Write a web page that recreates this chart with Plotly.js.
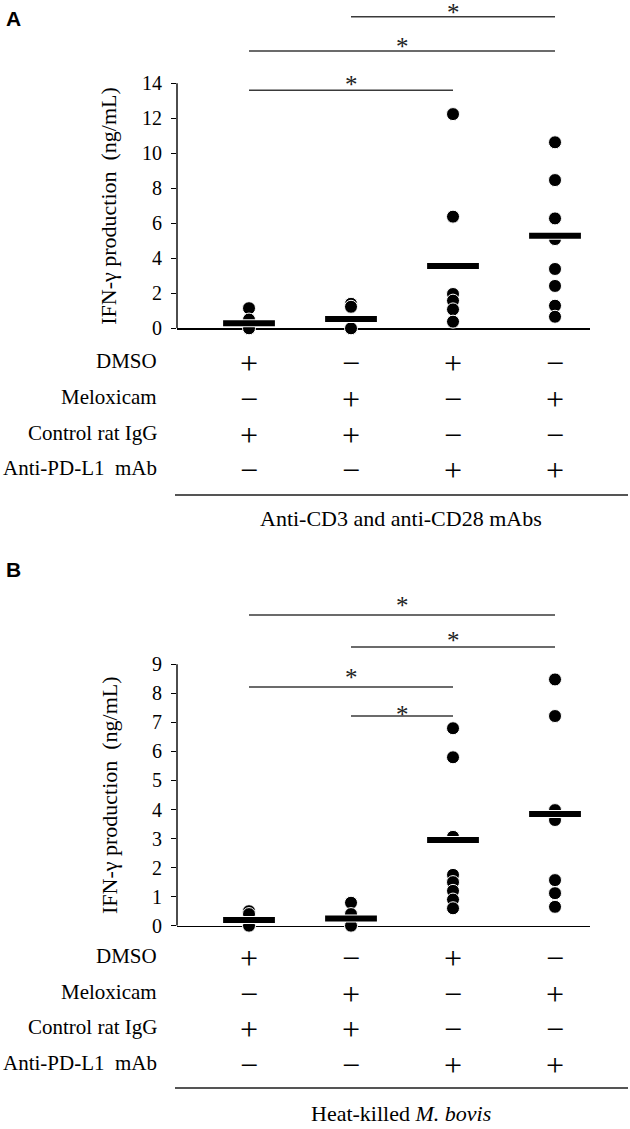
<!DOCTYPE html>
<html>
<head>
<meta charset="utf-8">
<script src="https://cdn.plot.ly/plotly-3.0.1.min.js"></script>
<style>html,body{margin:0;padding:0;background:#fff;}#chart{width:630px;height:1129px;}</style>
</head>
<body>
<div id="chart"></div>
<script>
// ---------------- DATA ----------------
const groups = [0, 1, 2, 3];
const rowLabels = ['DMSO', 'Meloxicam', 'Control rat IgG', 'Anti-PD-L1\u00a0 mAb'];
const dmso      = ['+', '\u2212', '+', '\u2212'];
const meloxicam = ['\u2212', '+', '\u2212', '+'];
const ratIgG    = ['+', '+', '\u2212', '\u2212'];
const antiPDL1  = ['\u2212', '\u2212', '+', '+'];

// Panel A: anti-CD3 / anti-CD28 stimulation (ng/mL)
const a_g1 = [1.15, 0.5, 0.0];
const a_g2 = [1.4, 1.23, 0.0];
const a_g3 = [12.24, 6.38, 1.96, 1.58, 1.08, 0.38];
const a_g4 = [10.63, 8.47, 6.28, 5.1, 3.39, 2.42, 1.29, 0.66];
const a_mean = [0.29, 0.53, 3.56, 5.29];
const a_ticks = [0, 2, 4, 6, 8, 10, 12, 14];
const a_sigPairs = [[1, 3], [0, 3], [0, 2]];
const a_sigLevel = [17.8, 15.85, 13.6];
const a_starLevel = [18.3, 16.36, 14.15];
const a_footer = 'Anti-CD3 and anti-CD28 mAbs';

// Panel B: heat-killed M. bovis stimulation (ng/mL)
const b_g1 = [0.5, 0.4, 0.0];
const b_g2 = [0.79, 0.4, 0.08, 0.0];
const b_g3 = [6.8, 5.8, 3.06, 1.75, 1.5, 1.2, 0.9, 0.6];
const b_g4 = [8.48, 7.22, 3.98, 3.64, 1.57, 1.12, 0.65];
const b_mean = [0.2, 0.25, 2.95, 3.85];
const b_ticks = [0, 1, 2, 3, 4, 5, 6, 7, 8, 9];
const b_sigPairs = [[0, 3], [1, 3], [0, 2], [1, 2]];
const b_sigLevel = [10.7, 9.6, 8.22, 7.22];
const b_starLevel = [11.18, 9.95, 8.7, 7.4];
const b_footer = 'Heat-killed <i>M. bovis</i>';

const yTitle = 'IFN-\u03b3 production\u00a0 (ng/mL)';

// ---------------- LAYOUT HELPERS ----------------
const W = 630, H = 1129;
const py = p => 1 - p / H;
const pxX = p => p / W;
const SERIF = '"Liberation Serif", "Times New Roman", Times, serif';

function dotsTrace(arrs, xa, ya) {
  const xs = [], ys = [];
  arrs.forEach((arr, i) => arr.forEach(v => { xs.push(groups[i]); ys.push(v); }));
  return {
    type: 'scatter', mode: 'markers', x: xs, y: ys, xaxis: xa, yaxis: ya,
    cliponaxis: false, hoverinfo: 'skip',
    marker: {color: '#000', size: 13, line: {color: '#fff', width: 1}}
  };
}
function meanTraces(means, xa, ya) {
  return [
    {type: 'scatter', mode: 'markers', x: groups, y: means, xaxis: xa, yaxis: ya, cliponaxis: false, hoverinfo: 'skip',
     marker: {symbol: 'line-ew', size: 40, color: '#fff', line: {color: '#fff', width: 8}}},
    {type: 'scatter', mode: 'markers', x: groups, y: means, xaxis: xa, yaxis: ya, cliponaxis: false, hoverinfo: 'skip',
     marker: {symbol: 'line-ew', size: 37, color: '#000', line: {color: '#000', width: 6}}}
  ];
}

const traces = [
  dotsTrace([a_g1, a_g2, a_g3, a_g4], 'x', 'y'),
  ...meanTraces(a_mean, 'x', 'y'),
  dotsTrace([b_g1, b_g2, b_g3, b_g4], 'x2', 'y2'),
  ...meanTraces(b_mean, 'x2', 'y2')
];

// pixel geometry of the two panels
const xDomain = [pxX(177), pxX(590)];
const xRange = [-0.706, 3.343];
const A = {zero: 328.3, ppu: 17.5, max: 18.5, ticks: a_ticks, rows: [361, 397, 433, 468], sep: 495, foot: 519, label: 18, letter: 'A'};
const B = {zero: 925.7, ppu: 29.04, max: 11.6, ticks: b_ticks, rows: [956, 992, 1027, 1063], sep: 1088, foot: 1113, label: 569, letter: 'B'};

function yAxis(P, xa) {
  return {
    domain: [py(P.zero), py(P.zero - P.max * P.ppu)], range: [0, P.max], anchor: xa,
    tickvals: P.ticks, ticktext: P.ticks.map(String), ticks: 'outside', ticklen: 5, tickwidth: 1.2, tickcolor: '#000',
    ticklabelstandoff: 5,
    showline: false, showgrid: false, zeroline: false, fixedrange: true,
    tickfont: {family: SERIF, size: 20, color: '#000'}
  };
}
function xAxis(ya) {
  return {
    domain: xDomain, range: xRange, anchor: ya, showline: true, linecolor: '#000', linewidth: 1.4,
    showticklabels: false, ticks: '', showgrid: false, zeroline: false, fixedrange: true, layer: 'below traces'
  };
}

const shapes = [], annotations = [];
function decorate(P, xa, ya, pairs, levels, stars, footer) {
  const top = P.ticks[P.ticks.length - 1];
  // y axis line from 0 to last tick
  shapes.push({type: 'line', xref: xa + ' domain', x0: 0, x1: 0, yref: ya, y0: 0, y1: top,
               line: {color: '#000', width: 1.4}});
  // y axis title, centred on the drawn axis (0 .. last tick)
  annotations.push({xref: 'paper', yref: ya, x: pxX(109), y: top / 2, xanchor: 'center', yanchor: 'middle',
                    textangle: -90, text: yTitle, showarrow: false, font: {family: SERIF, size: 22, color: '#000'}});
  // significance brackets
  pairs.forEach((pr, i) => {
    shapes.push({type: 'line', xref: xa, yref: ya, x0: groups[pr[0]], x1: groups[pr[1]], y0: levels[i], y1: levels[i],
                 line: {color: '#3a3a3a', width: 1.5}});
    annotations.push({xref: xa, yref: ya, x: (groups[pr[0]] + groups[pr[1]]) / 2, y: stars[i], text: '*',
                      showarrow: false, yshift: -4, font: {family: SERIF, size: 25, color: '#222'}});
  });
  // treatment table
  const rows = [dmso, meloxicam, ratIgG, antiPDL1];
  rows.forEach((row, r) => {
    annotations.push({xref: 'paper', yref: 'paper', x: pxX(159), y: py(P.rows[r]), xanchor: 'right', yanchor: 'middle',
                      text: rowLabels[r], showarrow: false, font: {family: SERIF, size: 21, color: '#000'}});
    row.forEach((s, g) => {
      annotations.push({xref: xa, yref: 'paper', x: groups[g], y: py(P.rows[r] + 2), xanchor: 'center', yanchor: 'middle',
                        text: s, showarrow: false, font: {family: SERIF, size: 32, color: '#000'}});
    });
  });
  shapes.push({type: 'line', xref: 'paper', yref: 'paper', x0: pxX(175), x1: pxX(628), y0: py(P.sep), y1: py(P.sep),
               line: {color: '#555', width: 2}});
  annotations.push({xref: 'paper', yref: 'paper', x: pxX(401), y: py(P.foot), xanchor: 'center', yanchor: 'middle',
                    text: footer, showarrow: false, font: {family: SERIF, size: 22, color: '#000'}});
  annotations.push({xref: 'paper', yref: 'paper', x: pxX(4), y: py(P.label), xanchor: 'left', yanchor: 'middle',
                    text: '<b>' + P.letter + '</b>', showarrow: false,
                    font: {family: '"Liberation Sans", Arial, sans-serif', size: 21, color: '#000'}});
}
decorate(A, 'x', 'y', a_sigPairs, a_sigLevel, a_starLevel, a_footer);
decorate(B, 'x2', 'y2', b_sigPairs, b_sigLevel, b_starLevel, b_footer);

const layout = {
  width: W, height: H, margin: {l: 0, r: 0, t: 0, b: 0},
  paper_bgcolor: '#fff', plot_bgcolor: 'rgba(0,0,0,0)', showlegend: false,
  font: {family: SERIF, color: '#000'},
  xaxis: xAxis('y'), yaxis: yAxis(A, 'x'),
  xaxis2: xAxis('y2'), yaxis2: yAxis(B, 'x2'),
  shapes: shapes, annotations: annotations
};

Plotly.newPlot('chart', traces, layout, {displayModeBar: false, staticPlot: true});
</script>
</body>
</html>
